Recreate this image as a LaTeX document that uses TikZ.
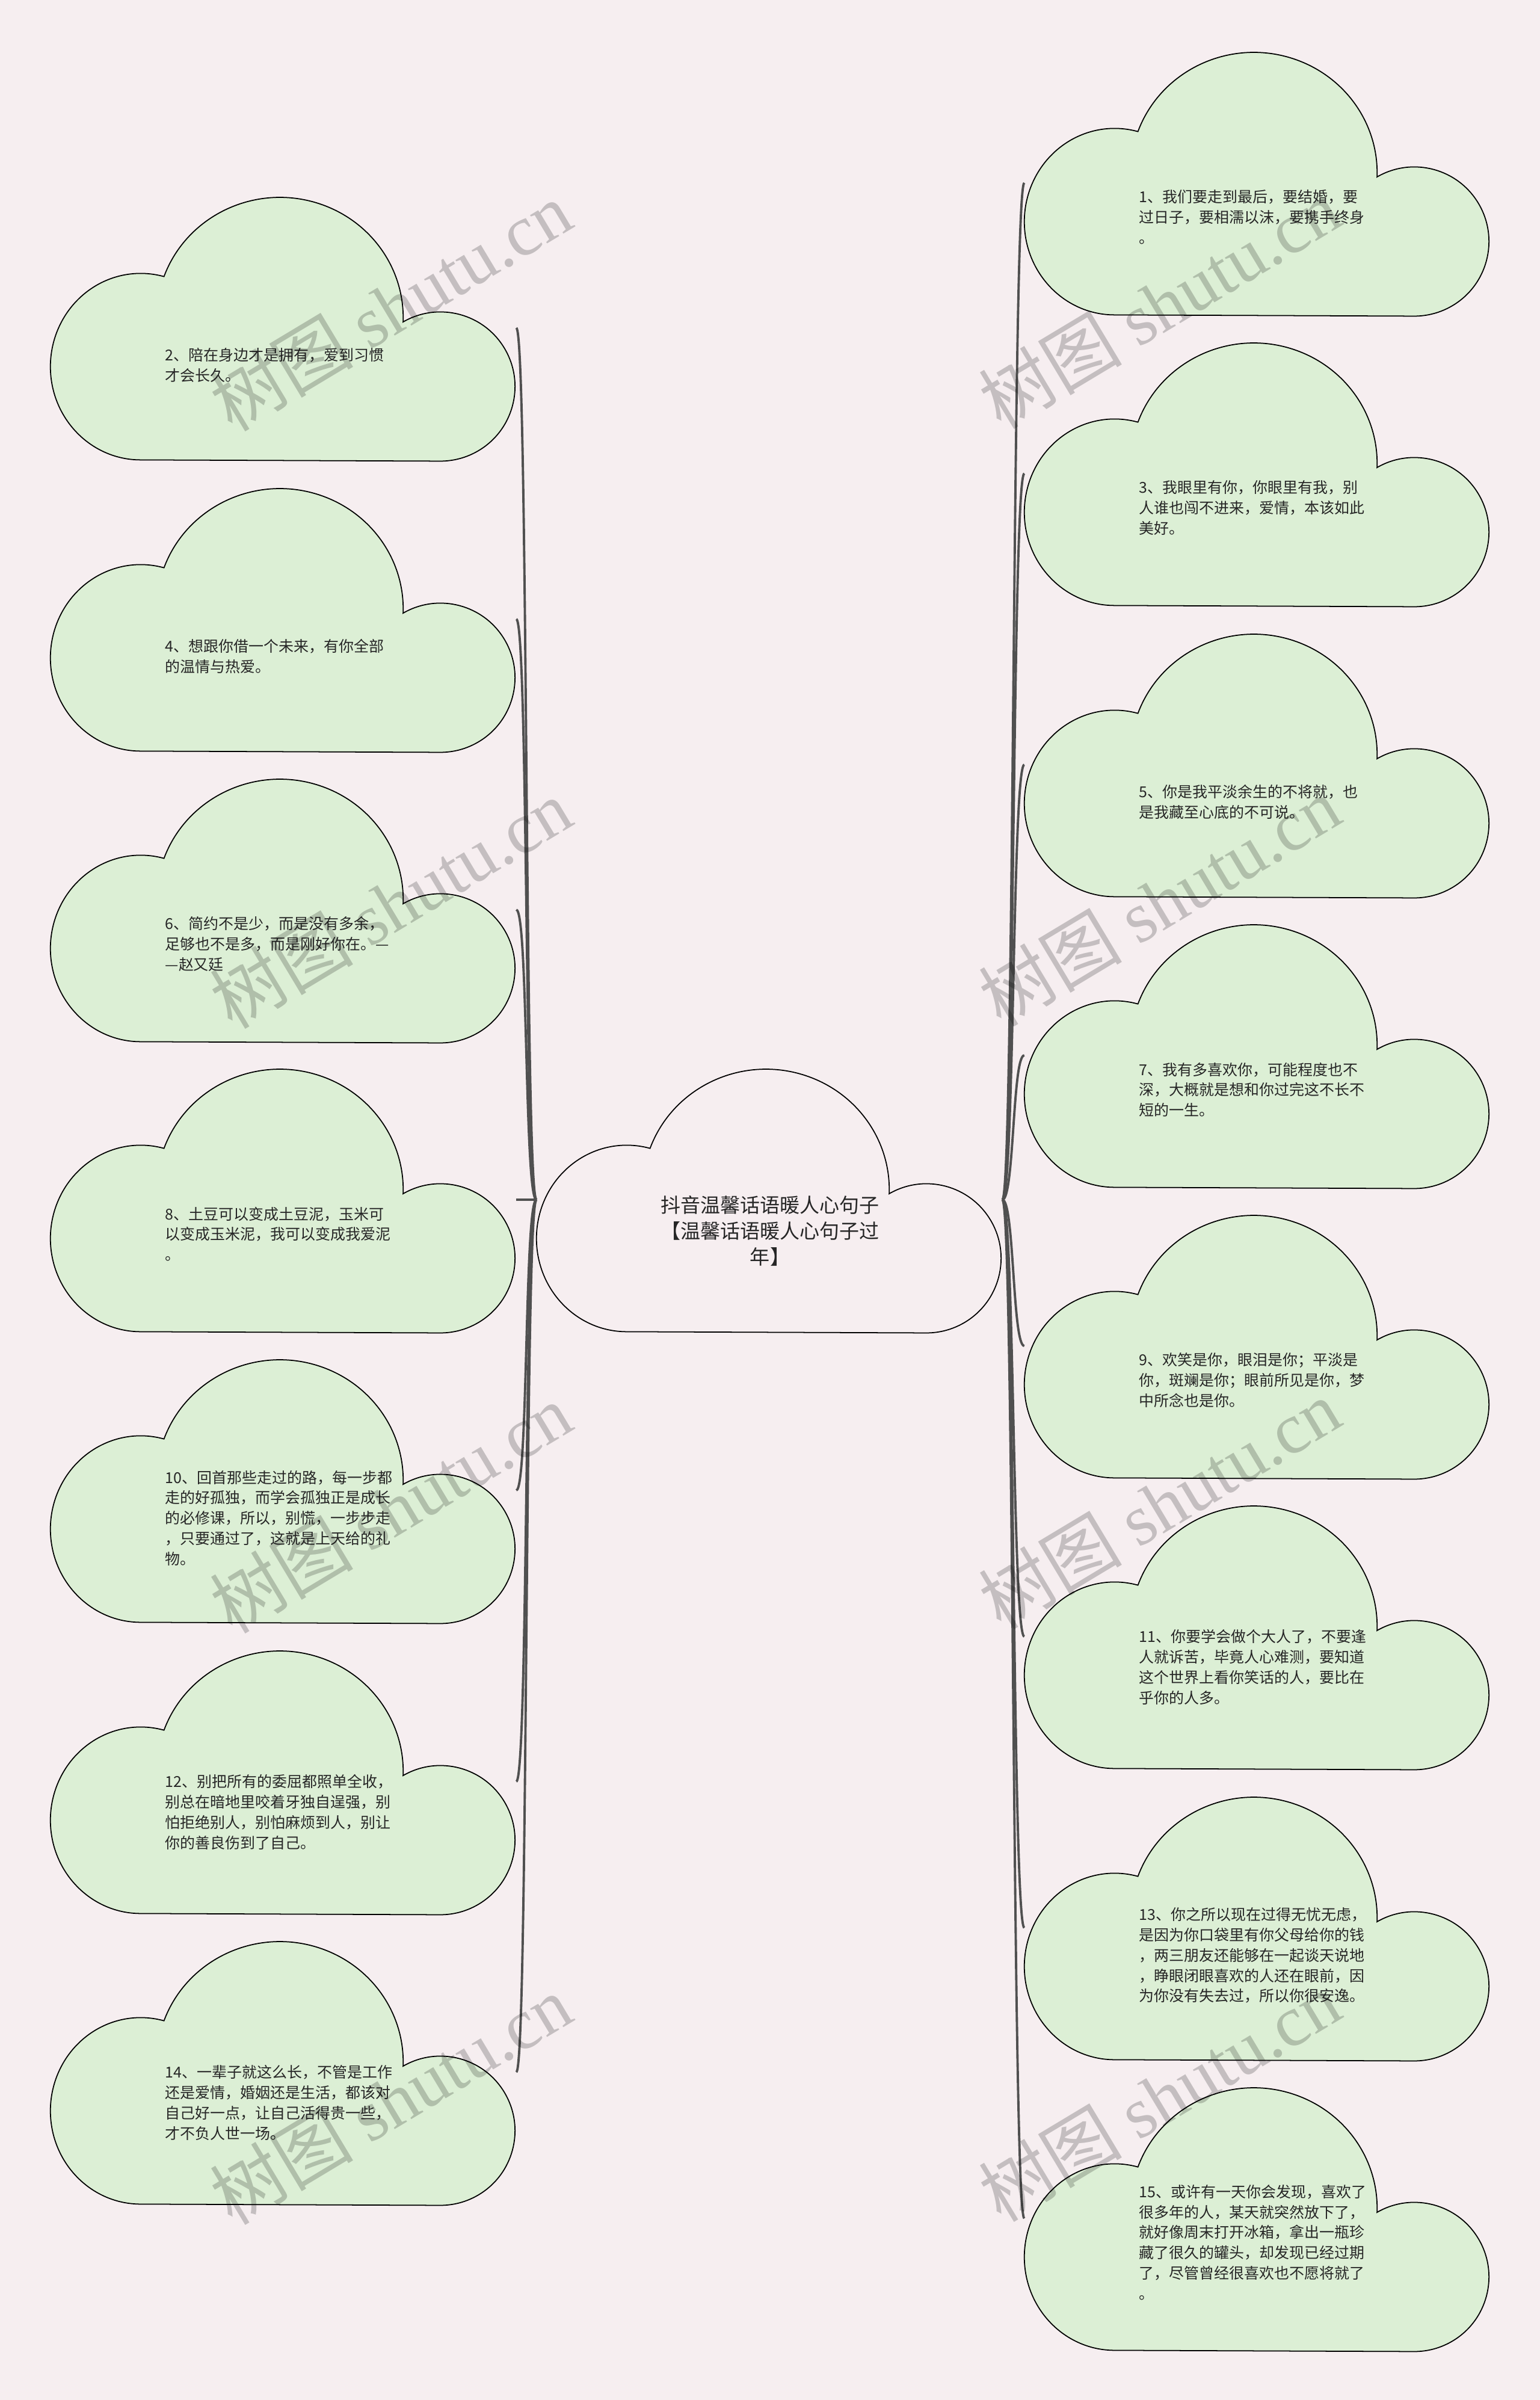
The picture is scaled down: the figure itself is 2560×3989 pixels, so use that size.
\documentclass[tikz,border=0pt]{standalone}
\usepackage{fontspec}
\setmainfont{Noto Sans CJK SC}
\newfontfamily\markfont{Liberation Serif}
\usetikzlibrary{positioning}

\definecolor{bgpink}{HTML}{F6EEF0}
\definecolor{leafgreen}{HTML}{DCEFD5}
\definecolor{linkgray}{HTML}{505050}

% 云朵外形：以节点左上角为基准，三段圆弧拼成
\newcommand{\cloudat}[2]{%
  \filldraw[#2] (#1.north west) ++(150,439)
    arc[start angle=90, end angle=285, x radius=150, y radius=155]
    arc[start angle=200, end angle=362, x radius=205, y radius=200]
    arc[start angle=240, end angle=450, radius=124] -- cycle;}

\tikzset{
  leafframe/.style={minimum width=7.74cm, minimum height=4.39cm, inner sep=0pt, outer sep=0pt},
  leafcloud/.style={draw=black, line width=0.5pt, fill=leafgreen},
  rootcloud/.style={draw=black, line width=0.5pt, fill=bgpink},
  leaftext/.style={anchor=west, text width=4.2cm, align=left, inner sep=0pt,
    font=\fontsize{7.1pt}{9.6pt}\selectfont, text=black!85},
  roottext/.style={align=center, inner sep=0pt,
    font=\fontsize{9.4pt}{12.2pt}\selectfont, text=black!85},
  link/.style={draw=linkgray, line width=1.1pt},
  watermark/.style={rotate=31, text=black, opacity=0.2,
    font=\fontsize{34pt}{34pt}\selectfont},
}

\begin{document}
\begin{tikzpicture}[x=0.01cm, y=-0.01cm]
    % 背景
    \fill[bgpink] (0,0) rectangle (2560,3989);

    % 中心主题与各分支的外框节点
    \node[leafframe] (root) at (1279,1994) {};
    \node[leafframe] (c2) at (471,545) {};
    \node[leafframe] (c4) at (471,1029) {};
    \node[leafframe] (c6) at (471,1512) {};
    \node[leafframe] (c8) at (471,1994) {};
    \node[leafframe] (c10) at (471,2477) {};
    \node[leafframe] (c12) at (471,2961) {};
    \node[leafframe] (c14) at (471,3444) {};
    \node[leafframe] (c1) at (2090,304) {};
    \node[leafframe] (c3) at (2090,787) {};
    \node[leafframe] (c5) at (2090,1271) {};
    \node[leafframe] (c7) at (2090,1754) {};
    \node[leafframe] (c9) at (2090,2237) {};
    \node[leafframe] (c11) at (2090,2720) {};
    \node[leafframe] (c13) at (2090,3204) {};
    \node[leafframe] (c15) at (2090,3687) {};

    % 连线：左侧分支
    \draw[link] (root.west) .. controls +(-20,0) and +(20,0) .. (c2.east);
    \draw[link] (root.west) .. controls +(-20,0) and +(20,0) .. (c4.east);
    \draw[link] (root.west) .. controls +(-20,0) and +(20,0) .. (c6.east);
    \draw[link] (root.west) -- (c8.east);
    \draw[link] (root.west) .. controls +(-20,0) and +(20,0) .. (c10.east);
    \draw[link] (root.west) .. controls +(-20,0) and +(20,0) .. (c12.east);
    \draw[link] (root.west) .. controls +(-20,0) and +(20,0) .. (c14.east);
    % 连线：右侧分支
    \draw[link] (root.east) .. controls +(20,0) and +(-20,0) .. (c1.west);
    \draw[link] (root.east) .. controls +(20,0) and +(-20,0) .. (c3.west);
    \draw[link] (root.east) .. controls +(20,0) and +(-20,0) .. (c5.west);
    \draw[link] (root.east) .. controls +(20,0) and +(-20,0) .. (c7.west);
    \draw[link] (root.east) .. controls +(20,0) and +(-20,0) .. (c9.west);
    \draw[link] (root.east) .. controls +(20,0) and +(-20,0) .. (c11.west);
    \draw[link] (root.east) .. controls +(20,0) and +(-20,0) .. (c13.west);
    \draw[link] (root.east) .. controls +(20,0) and +(-20,0) .. (c15.west);

    % 云朵
    \cloudat{root}{rootcloud}
    \cloudat{c2}{leafcloud}
    \cloudat{c4}{leafcloud}
    \cloudat{c6}{leafcloud}
    \cloudat{c8}{leafcloud}
    \cloudat{c10}{leafcloud}
    \cloudat{c12}{leafcloud}
    \cloudat{c14}{leafcloud}
    \cloudat{c1}{leafcloud}
    \cloudat{c3}{leafcloud}
    \cloudat{c5}{leafcloud}
    \cloudat{c7}{leafcloud}
    \cloudat{c9}{leafcloud}
    \cloudat{c11}{leafcloud}
    \cloudat{c13}{leafcloud}
    \cloudat{c15}{leafcloud}

    % 文字
    \node[roottext] (t0) at ([shift={(1,52)}]root.center) {抖音温馨话语暖人心句子\\【温馨话语暖人心句子过\\年】};
    \node[leaftext] (t2) at ([shift={(-197,62)}]c2.center) {2、陪在身边才是拥有，爱到习惯\\才会长久。};
    \node[leaftext] (t4) at ([shift={(-197,62)}]c4.center) {4、想跟你借一个未来，有你全部\\的温情与热爱。};
    \node[leaftext] (t6) at ([shift={(-197,57)}]c6.center) {6、简约不是少，而是没有多余，\\足够也不是多，而是刚好你在。—\\—赵又廷};
    \node[leaftext] (t8) at ([shift={(-197,57)}]c8.center) {8、土豆可以变成土豆泥，玉米可\\以变成玉米泥，我可以变成我爱泥\\。};
    \node[leaftext] (t10) at ([shift={(-197,46)}]c10.center) {10、回首那些走过的路，每一步都\\走的好孤独，而学会孤独正是成长\\的必修课，所以，别慌，一步步走\\，只要通过了，这就是上天给的礼\\物。};
    \node[leaftext] (t12) at ([shift={(-197,51)}]c12.center) {12、别把所有的委屈都照单全收，\\别总在暗地里咬着牙独自逞强，别\\怕拒绝别人，别怕麻烦到人，别让\\你的善良伤到了自己。};
    \node[leaftext] (t14) at ([shift={(-197,51)}]c14.center) {14、一辈子就这么长，不管是工作\\还是爱情，婚姻还是生活，都该对\\自己好一点，让自己活得贵一些，\\才不负人世一场。};
    \node[leaftext] (t1) at ([shift={(-197,57)}]c1.center) {1、我们要走到最后，要结婚，要\\过日子，要相濡以沫，要携手终身\\。};
    \node[leaftext] (t3) at ([shift={(-197,57)}]c3.center) {3、我眼里有你，你眼里有我，别\\人谁也闯不进来，爱情，本该如此\\美好。};
    \node[leaftext] (t5) at ([shift={(-197,62)}]c5.center) {5、你是我平淡余生的不将就，也\\是我藏至心底的不可说。};
    \node[leaftext] (t7) at ([shift={(-197,57)}]c7.center) {7、我有多喜欢你，可能程度也不\\深，大概就是想和你过完这不长不\\短的一生。};
    \node[leaftext] (t9) at ([shift={(-197,57)}]c9.center) {9、欢笑是你，眼泪是你；平淡是\\你，斑斓是你；眼前所见是你，梦\\中所念也是你。};
    \node[leaftext] (t11) at ([shift={(-197,51)}]c11.center) {11、你要学会做个大人了，不要逢\\人就诉苦，毕竟人心难测，要知道\\这个世界上看你笑话的人，要比在\\乎你的人多。};
    \node[leaftext] (t13) at ([shift={(-197,46)}]c13.center) {13、你之所以现在过得无忧无虑，\\是因为你口袋里有你父母给你的钱\\，两三朋友还能够在一起谈天说地\\，睁眼闭眼喜欢的人还在眼前，因\\为你没有失去过，所以你很安逸。};
    \node[leaftext] (t15) at ([shift={(-197,40)}]c15.center) {15、或许有一天你会发现，喜欢了\\很多年的人，某天就突然放下了，\\就好像周末打开冰箱，拿出一瓶珍\\藏了很久的罐头，却发现已经过期\\了，尽管曾经很喜欢也不愿将就了\\。};

    % 水印
    \node[watermark] (w1) at (649,509) {树图 {\markfont shutu.cn}};
    \node[watermark] (w2) at (649,1502) {树图 {\markfont shutu.cn}};
    \node[watermark] (w3) at (649,2507) {树图 {\markfont shutu.cn}};
    \node[watermark] (w4) at (649,3490) {树图 {\markfont shutu.cn}};
    \node[watermark] (w5) at (1927,505) {树图 {\markfont shutu.cn}};
    \node[watermark] (w6) at (1927,1498) {树图 {\markfont shutu.cn}};
    \node[watermark] (w7) at (1927,2500) {树图 {\markfont shutu.cn}};
    \node[watermark] (w8) at (1927,3485) {树图 {\markfont shutu.cn}};
\end{tikzpicture}
\end{document}
